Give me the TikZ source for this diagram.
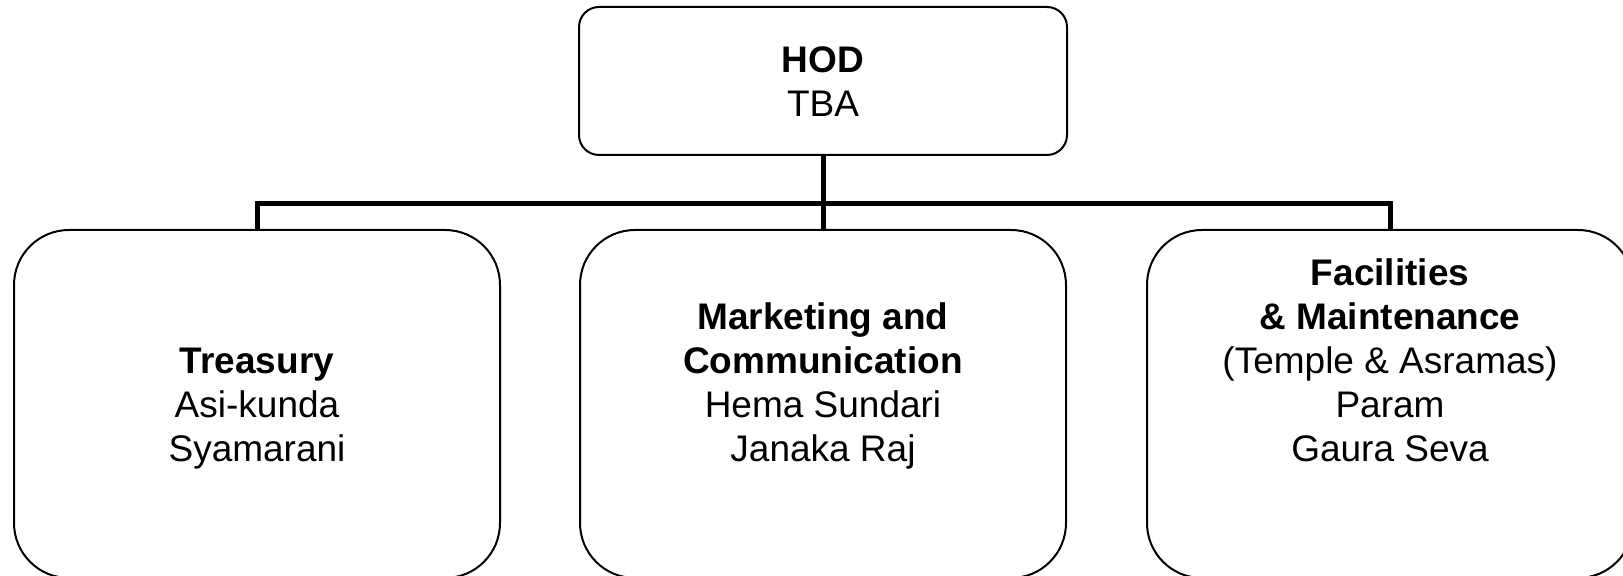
\documentclass[tikz,border=0pt]{standalone}
\usepackage{fontspec}
\setmainfont{Liberation Sans}
\usetikzlibrary{positioning}

\begin{document}
\begin{tikzpicture}[x=0.5pt,y=0.5pt]
  \tikzset{
    head/.style={draw,line width=1pt,rounded corners=10pt,minimum width=244pt,minimum height=74pt},
    unit/.style={draw,line width=1pt,rounded corners=27.5pt,minimum width=243pt,minimum height=174pt},
    names/.style={anchor=south,inner sep=0pt,align=center,font=\fontsize{18.5}{22}\selectfont},
    link/.style={line width=2.5pt}}
  \useasboundingbox (0,0) rectangle (1623,576);
  \node[head] (hod) at (823,495) {};
  \node[unit] (treasury) at (257,172) {};
  \node[unit] (marketing) at (823,172) {};
  \node[unit] (facilities) at (1390,172) {};
  % texts sit on the baseline of their last line
  \node[names] (hodtxt) at (823,445.8) {\textbf{HOD}\\ TBA\strut};
  \node[names] (treasurytxt) at (257,100.8) {\textbf{Treasury}\\ Asi-kunda\\ Syamarani\strut};
  \node[names] (marketingtxt) at (823,100.8) {\textbf{Marketing and}\\ \textbf{Communication}\\ Hema Sundari\\ Janaka Raj\strut};
  \node[names] (facilitiestxt) at (1390,100.8) {\textbf{Facilities}\\ \textbf{\& Maintenance}\\ (Temple \& Asramas)\\ Param\\ Gaura Seva\strut};
  \draw[link] (hod.south) -- (marketing.north);
  \draw[link] (treasury.north) -- ++(0,25) -| (facilities.north);
\end{tikzpicture}
\end{document}
